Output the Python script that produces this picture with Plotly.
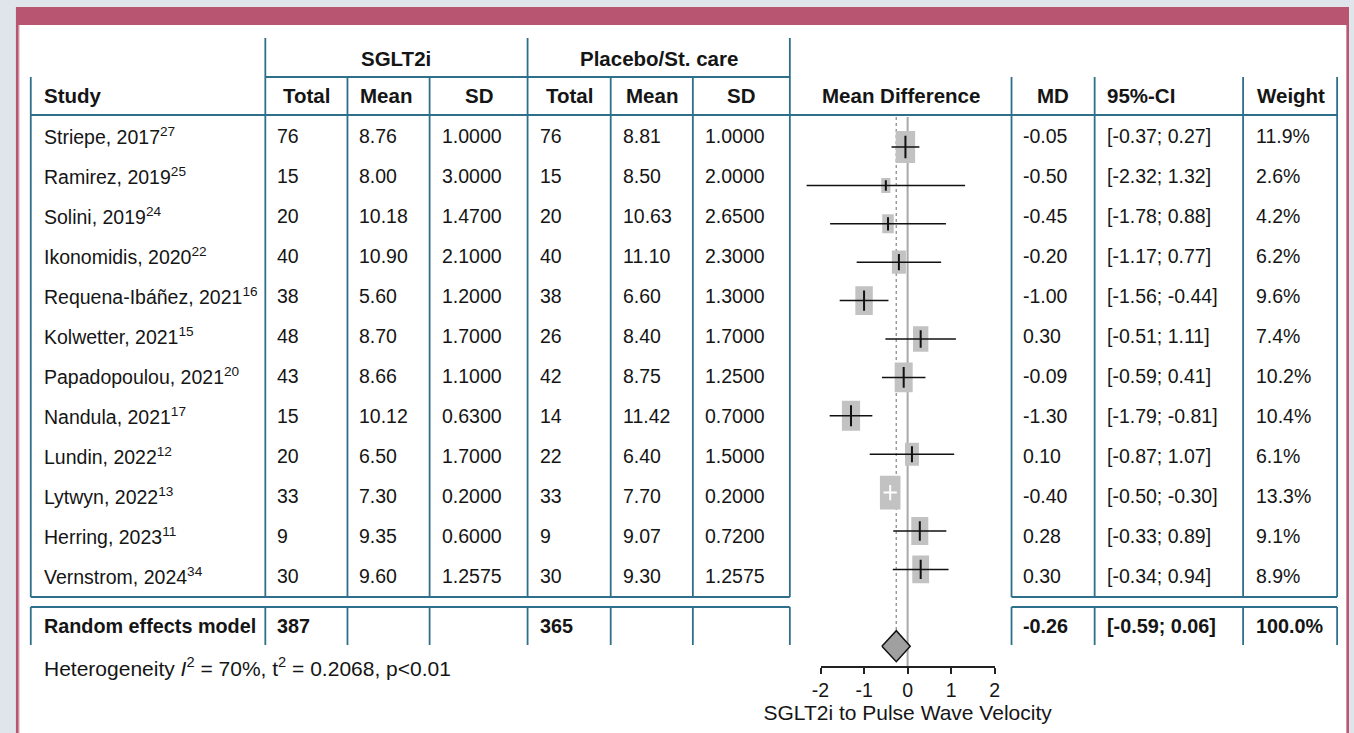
import math
import plotly.graph_objects as go

# ---------------- data ----------------
studies = ["Striepe, 2017", "Ramirez, 2019", "Solini, 2019", "Ikonomidis, 2020",
           "Requena-Ibáñez, 2021", "Kolwetter, 2021", "Papadopoulou, 2021", "Nandula, 2021",
           "Lundin, 2022", "Lytwyn, 2022", "Herring, 2023", "Vernstrom, 2024"]
refs = ["27", "25", "24", "22", "16", "15", "20", "17", "12", "13", "11", "34"]
sg_total = [76, 15, 20, 40, 38, 48, 43, 15, 20, 33, 9, 30]
sg_mean = [8.76, 8.00, 10.18, 10.90, 5.60, 8.70, 8.66, 10.12, 6.50, 7.30, 9.35, 9.60]
sg_sd = [1.0000, 3.0000, 1.4700, 2.1000, 1.2000, 1.7000, 1.1000, 0.6300, 1.7000, 0.2000, 0.6000, 1.2575]
pl_total = [76, 15, 20, 40, 38, 26, 42, 14, 22, 33, 9, 30]
pl_mean = [8.81, 8.50, 10.63, 11.10, 6.60, 8.40, 8.75, 11.42, 6.40, 7.70, 9.07, 9.30]
pl_sd = [1.0000, 2.0000, 2.6500, 2.3000, 1.3000, 1.7000, 1.2500, 0.7000, 1.5000, 0.2000, 0.7200, 1.2575]
md = [-0.05, -0.50, -0.45, -0.20, -1.00, 0.30, -0.09, -1.30, 0.10, -0.40, 0.28, 0.30]
ci_lo = [-0.37, -2.32, -1.78, -1.17, -1.56, -0.51, -0.59, -1.79, -0.87, -0.50, -0.33, -0.34]
ci_hi = [0.27, 1.32, 0.88, 0.77, -0.44, 1.11, 0.41, -0.81, 1.07, -0.30, 0.89, 0.94]
weight = [11.9, 2.6, 4.2, 6.2, 9.6, 7.4, 10.2, 10.4, 6.1, 13.3, 9.1, 8.9]

pooled_label = "Random effects model"
pooled_n_sg = 387
pooled_n_pl = 365
pooled_md = -0.26
pooled_lo = -0.59
pooled_hi = 0.06
pooled_weight = 100.0
het_i2 = 70
het_tau2 = 0.2068
het_p = "p&lt;0.01"

axis_ticks = [-2, -1, 0, 1, 2]
axis_title = "SGLT2i to Pulse Wave Velocity"

# ---------------- geometry (page pixel coordinates) ----------------
W, H = 1354, 733
FONT = "Liberation Sans, Arial, Helvetica, sans-serif"
TXT = "#151515"
LINE = "#2e6f8c"
PINK = "#b85672"
PINK_L = "#d88ea4"
BG = "#dfe5eb"

X0_PX, X_SCALE = 908, 44.0      # px of 0, px per unit
Y0_PX, Y_STEP = 147, 38.4       # px of first study row, px per row
COL_L, COL_R = 789, 1013
PLOT_T, PLOT_B = 117, 666
xr = [(COL_L - X0_PX) / X_SCALE, (COL_R - X0_PX) / X_SCALE]
yr = [(PLOT_B - Y0_PX) / Y_STEP, (PLOT_T - Y0_PX) / Y_STEP]
n = len(studies)
diamond_row = n + 1
BOX_W, BOX_H = 5.7, 9.3          # px per sqrt(weight)


def px(x):
    return x / W


def py(y):
    return 1 - y / H


fig = go.Figure()

# reference lines
fig.add_trace(go.Scatter(x=[0, 0], y=[yr[1], yr[0]], mode="lines",
                         line=dict(color="#a9a9a9", width=2), hoverinfo="skip"))
half_d = 15.5 / Y_STEP
fig.add_trace(go.Scatter(x=[pooled_md, pooled_md], y=[yr[1], diamond_row - half_d], mode="lines",
                         line=dict(color="#9a9a9a", width=1.5, dash="dot"), hoverinfo="skip"))

# boxes, whiskers, estimate ticks
bx, by, wx, wy, tx, ty, wwx, wwy = [], [], [], [], [], [], [], []
for i in range(n):
    s = math.sqrt(weight[i])
    hw = BOX_W * s / 2 / X_SCALE
    hh = BOX_H * s / 2 / Y_STEP
    bx += [md[i] - hw, md[i] + hw, md[i] + hw, md[i] - hw, md[i] - hw, None]
    by += [i - hh, i - hh, i + hh, i + hh, i - hh, None]
    inside = (ci_hi[i] - ci_lo[i]) * X_SCALE < BOX_W * s
    if inside:
        th = hh * 0.45
        wwx += [md[i] - hw * 0.65, md[i] + hw * 0.65, None, md[i], md[i], None]
        wwy += [i, i, None, i - th, i + th, None]
    else:
        wx += [ci_lo[i], ci_hi[i], None]
        wy += [i, i, None]
        th = hh * 0.7
        tx += [md[i], md[i], None]
        ty += [i - th, i + th, None]

fig.add_trace(go.Scatter(x=bx, y=by, mode="lines", fill="toself", fillcolor="#c2c2c2",
                         line=dict(width=0, color="#c2c2c2"), hoverinfo="skip"))
fig.add_trace(go.Scatter(x=wx, y=wy, mode="lines", line=dict(color="#111", width=1.5), hoverinfo="skip"))
fig.add_trace(go.Scatter(x=tx, y=ty, mode="lines", line=dict(color="#111", width=2), hoverinfo="skip"))
fig.add_trace(go.Scatter(x=wwx, y=wwy, mode="lines", line=dict(color="#ffffff", width=2), hoverinfo="skip"))

# pooled diamond
fig.add_trace(go.Scatter(x=[pooled_lo, pooled_md, pooled_hi, pooled_md, pooled_lo],
                         y=[diamond_row, diamond_row - half_d, diamond_row, diamond_row + half_d, diamond_row],
                         mode="lines", fill="toself", fillcolor="#a0a0a0",
                         line=dict(color="#111", width=1.5), hoverinfo="skip"))
# empty trace so the tick axis is drawn
fig.add_trace(go.Scatter(x=[], y=[], xaxis="x2", yaxis="y", hoverinfo="skip"))

# ---------------- shapes ----------------
shapes = []


def rect(x0, x1, y0, y1, color):
    shapes.append(dict(type="rect", xref="paper", yref="paper", x0=px(x0), x1=px(x1), y0=py(y1), y1=py(y0),
                       fillcolor=color, line=dict(width=0), layer="below"))


rect(7, W, 7, 25, PINK)              # top band
rect(7, 9.7, 25, H, PINK)            # left border
rect(9.7, 10.7, 25, H, PINK_L)
rect(10.7, 1351, 25, H, "#ffffff")   # white panel
rect(1351, 1352, 25, H, PINK_L)      # right border
rect(1352, W, 25, H, PINK)


def hline(x0, x1, y):
    shapes.append(dict(type="line", xref="paper", yref="paper", x0=px(x0), x1=px(x1), y0=py(y), y1=py(y),
                       line=dict(color=LINE, width=1.8)))


def vline(x, y0, y1):
    shapes.append(dict(type="line", xref="paper", yref="paper", x0=px(x), x1=px(x), y0=py(y0), y1=py(y1),
                       line=dict(color=LINE, width=1.8)))


hline(259, 789, 77)
hline(22, 1342, 115)
for a, b in [(22, 789), (1013, 1342)]:
    hline(a, b, 597)
    hline(a, b, 607)
for x in [259, 524, 789]:
    vline(x, 38, 597)
for x in [22, 342, 425, 608, 691, 1013, 1097, 1247, 1342]:
    vline(x, 77, 597)
for x in [22, 259, 342, 425, 524, 608, 691, 789, 1013, 1097, 1247, 1342]:
    vline(x, 607, 645)


# ---------------- text ----------------
def ann(text, x, y, anchor="left", bold=False, size=19.5):
    if bold:
        text = f"<b>{text}</b>"
    fig.add_annotation(text=text, x=px(x), y=py(y), xref="paper", yref="paper",
                       xanchor=anchor, yanchor="middle", showarrow=False,
                       font=dict(size=size, color=TXT, family=FONT))


HB = 20.5
ann("SGLT2i", 391.5, 58, "center", True, HB)
ann("Placebo/St. care", 656.5, 58, "center", True, HB)
ann("Study", 33, 96, "left", True, HB)
ann("Total", 300.5, 96, "center", True, HB)
ann("Mean", 381, 96, "center", True, HB)
ann("SD", 474.5, 96, "center", True, HB)
ann("Total", 566, 96, "center", True, HB)
ann("Mean", 649.5, 96, "center", True, HB)
ann("SD", 740, 96, "center", True, HB)
ann("Mean Difference", 901, 96, "center", True, HB)
ann("MD", 1055, 96, "center", True, HB)
ann("95%-CI", 1107, 96, "left", True, HB)
ann("Weight", 1295, 96, "center", True, HB)

for i in range(n):
    y = 136 + 40 * i
    ann(f"{studies[i]}<sup>{refs[i]}</sup>", 33, y)
    ann(f"{sg_total[i]}", 269, y)
    ann(f"{sg_mean[i]:.2f}", 352, y)
    ann(f"{sg_sd[i]:.4f}", 436, y)
    ann(f"{pl_total[i]}", 535, y)
    ann(f"{pl_mean[i]:.2f}", 618, y)
    ann(f"{pl_sd[i]:.4f}", 701, y)
    ann(f"{md[i]:.2f}", 1023, y)
    ann(f"[{ci_lo[i]:.2f}; {ci_hi[i]:.2f}]", 1107, y)
    ann(f"{weight[i]:.1f}%", 1258, y)

yR = 626
RB = 19.8
ann(pooled_label, 33, yR, "left", True, RB)
ann(f"{pooled_n_sg}", 269, yR, "left", True, RB)
ann(f"{pooled_n_pl}", 535, yR, "left", True, RB)
ann(f"{pooled_md:.2f}", 1023, yR, "left", True, RB)
ann(f"[{pooled_lo:.2f}; {pooled_hi:.2f}]", 1107, yR, "left", True, RB)
ann(f"{pooled_weight:.1f}%", 1258, yR, "left", True, RB)

ann(f"Heterogeneity <i>I</i><sup>2</sup> = {het_i2}%, t<sup>2</sup> = {het_tau2:.4f}, {het_p}", 33, 667,
    size=21)

fig.update_layout(
    width=W, height=H, autosize=False,
    margin=dict(l=0, r=0, t=0, b=0, pad=0),
    paper_bgcolor=BG, plot_bgcolor="rgba(0,0,0,0)",
    showlegend=False,
    shapes=shapes,
    xaxis=dict(domain=[px(COL_L), px(COL_R)], range=xr, visible=False, fixedrange=True),
    yaxis=dict(domain=[py(PLOT_B), py(PLOT_T)], range=yr, visible=False, fixedrange=True),
    xaxis2=dict(domain=[px(X0_PX - 2 * X_SCALE), px(X0_PX + 2 * X_SCALE)], range=[-2, 2],
                anchor="y", showline=True, linecolor="#222", linewidth=1.5,
                ticks="outside", ticklen=6, tickwidth=1.5, tickcolor="#222",
                tickvals=axis_ticks, ticktext=[str(t) for t in axis_ticks],
                tickfont=dict(size=19.5, color=TXT, family=FONT),
                showgrid=False, zeroline=False, fixedrange=True,
                title=dict(text=axis_title, font=dict(size=21, color=TXT, family=FONT), standoff=3)),
    font=dict(family=FONT, color=TXT),
)

fig.write_html("out.html", config={"displayModeBar": False},
               post_script="document.body.style.margin='0';document.body.style.overflow='hidden';"
                           "document.body.style.background='" + BG + "';")
